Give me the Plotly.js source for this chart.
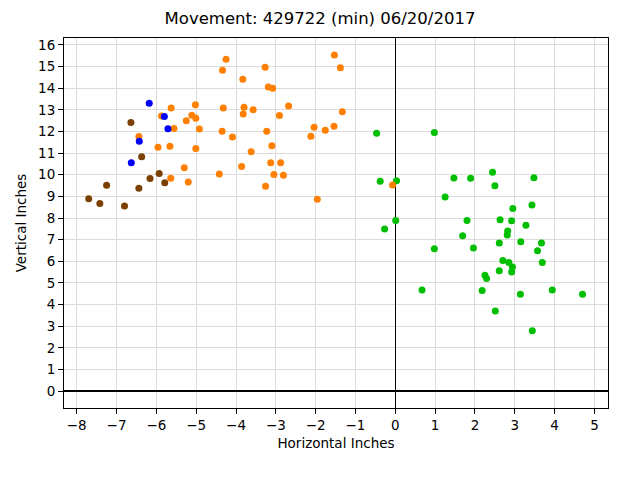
<!DOCTYPE html>
<html>
<head>
<meta charset="utf-8">
<script src="https://cdn.plot.ly/plotly-3.0.1.min.js"></script>
<style>
  body { margin: 0; background: white; }
  #chart { width: 640px; height: 480px; }
</style>
</head>
<body>
<div id="chart"></div>
<script>
// point groups (inches)
var brown_x = [-6.64, -6.37, -5.93, -6.16, -5.79, -7.25, -6.44, -7.70, -7.42, -6.80]
var brown_y = [12.41, 10.83, 10.06, 9.83, 9.63, 9.52, 9.38, 8.89, 8.67, 8.56]

var green_x = [-0.47, 0.98, 2.44, 1.47, 1.89, 3.48, 2.50, -0.38, 0.03, 1.25,
               3.43, 2.95, 0.01, 1.80, 2.63, 2.92, 3.28, -0.27, 2.82, 2.81,
               1.69, 3.15, 2.61, 3.67, 0.98, 1.96, 3.57, 3.69, 2.70, 2.85,
               2.94, 2.92, 2.61, 2.25, 2.29, 0.67, 2.18, 3.14, 3.94, 4.70,
               2.51, 3.44]
var green_y = [11.92, 11.95, 10.12, 9.85, 9.84, 9.86, 9.49, 9.70, 9.72, 8.97,
               8.60, 8.44, 7.88, 7.88, 7.92, 7.87, 7.67, 7.49, 7.40, 7.22,
               7.18, 6.90, 6.84, 6.84, 6.58, 6.61, 6.49, 5.95, 6.04, 5.95,
               5.74, 5.51, 5.56, 5.36, 5.21, 4.67, 4.65, 4.48, 4.67, 4.48,
               3.70, 2.79]

var orange_x = [-4.25, -4.34, -3.83, -5.63, -5.02, -4.32, -3.80, -3.82, -3.57, -5.87,
                -5.11, -5.01, -5.25, -5.56, -4.92, -4.35, -4.09, -6.44, -5.96, -5.66,
                -5.01, -3.62, -5.30, -3.86, -4.42, -5.64, -5.20, -1.53, -1.38, -3.27,
                -3.19, -3.08, -2.68, -2.91, -1.33, -3.23, -2.04, -1.76, -1.54, -2.12,
                -3.10, -3.13, -2.88, -3.05, -2.81, -3.26, -1.96, -0.07]
var orange_y = [15.34, 14.83, 14.41, 13.09, 13.24, 13.08, 13.12, 12.81, 13.00, 12.72,
                12.75, 12.61, 12.49, 12.14, 12.11, 12.01, 11.74, 11.77, 11.27, 11.32,
                11.21, 11.06, 10.32, 10.38, 10.04, 9.84, 9.66, 15.54, 14.94, 14.97,
                14.05, 14.00, 13.18, 12.74, 12.91, 12.01, 12.20, 12.06, 12.24, 11.78,
                11.34, 10.56, 10.55, 10.01, 9.98, 9.47, 8.87, 9.53]

var blue_x = [-6.18, -5.80, -5.71, -6.43, -6.63]
var blue_y = [13.31, 12.69, 12.13, 11.55, 10.55]

var x_ticks = [-8, -7, -6, -5, -4, -3, -2, -1, 0, 1, 2, 3, 4, 5]
var y_ticks = [0, 1, 2, 3, 4, 5, 6, 7, 8, 9, 10, 11, 12, 13, 14, 15, 16]

function dots(x, y, color) {
    return {
        x: x,
        y: y,
        type: 'scatter',
        mode: 'markers',
        marker: {color: color, size: 7, line: {width: 0}},
        hoverinfo: 'x+y',
        showlegend: false
    }
}

var data = [
    dots(brown_x, brown_y, '#7b3f00'),
    dots(green_x, green_y, '#00bf00'),
    dots(orange_x, orange_y, '#ff8000'),
    dots(blue_x, blue_y, '#0000ff')
]

var axis_common = {
    showgrid: true,
    gridcolor: '#dcdcdc',
    gridwidth: 1,
    zeroline: true,
    zerolinecolor: 'black',
    zerolinewidth: 1.5,
    showline: true,
    linecolor: 'black',
    linewidth: 1,
    mirror: true,
    ticks: 'outside',
    ticklen: 5,
    tickwidth: 1,
    tickcolor: 'black',
    tickfont: {size: 13.5, color: 'black'},
    fixedrange: true,
    automargin: false
}

var layout = {
    width: 640,
    height: 480,
    margin: {l: 64, r: 32, t: 38, b: 72, pad: 0},
    paper_bgcolor: 'white',
    plot_bgcolor: 'white',
    font: {family: 'DejaVu Sans', color: 'black'},
    title: {
        text: 'Movement: 429722 (min) 06/20/2017',
        font: {size: 16.5, color: 'black'},
        x: 0.5,
        xanchor: 'center',
        y: 1 - 18 / 480,
        yanchor: 'middle',
        yref: 'container'
    },
    xaxis: Object.assign({}, axis_common, {
        range: [-8.32, 5.34],
        tickvals: x_ticks,
        title: {text: 'Horizontal Inches', font: {size: 13.5}, standoff: 6}
    }),
    yaxis: Object.assign({}, axis_common, {
        range: [-0.78, 16.32],
        tickvals: y_ticks,
        title: {text: 'Vertical Inches', font: {size: 13.5}, standoff: 8}
    })
}

Plotly.newPlot('chart', data, layout, {displayModeBar: false, staticPlot: true})
</script>
</body>
</html>
